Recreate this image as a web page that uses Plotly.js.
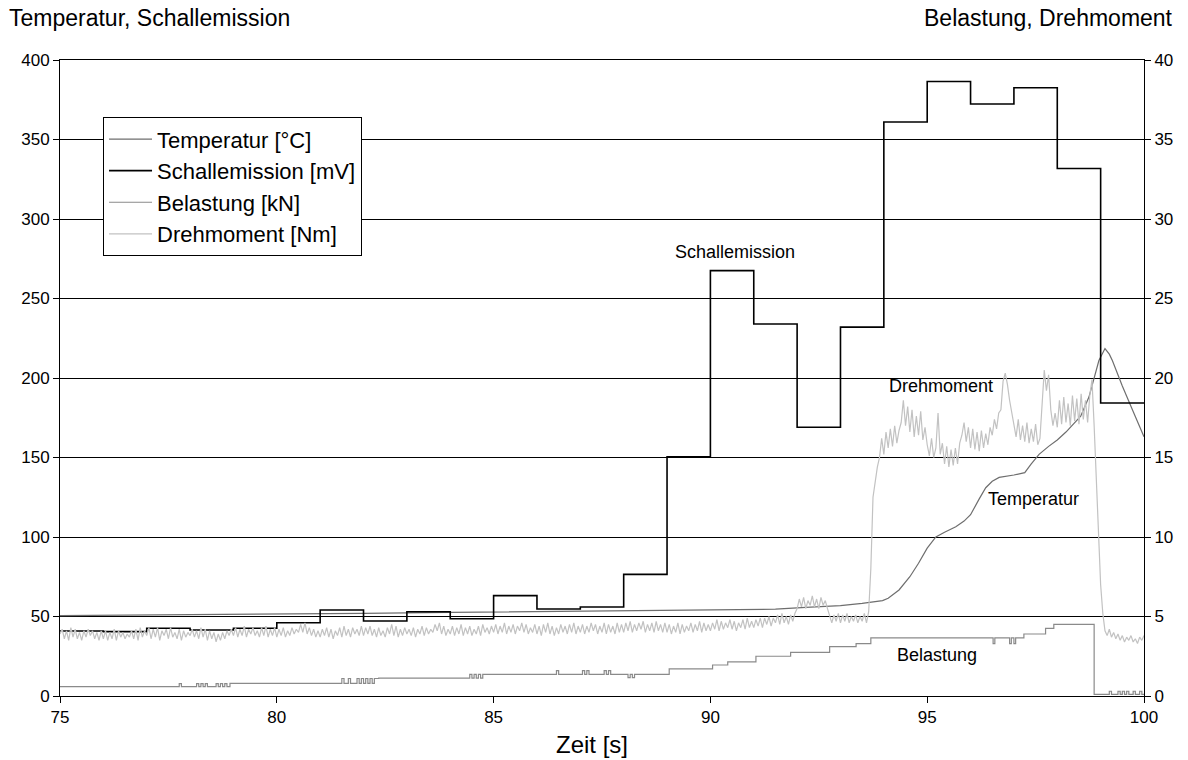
<!DOCTYPE html>
<html>
<head>
<meta charset="utf-8">
<script src="https://cdn.plot.ly/plotly-3.0.1.min.js"></script>
<style>html,body{margin:0;padding:0;background:#fff;}#chart{width:1188px;height:760px;}</style>
</head>
<body>
<div id="chart"></div>
<script>
// Schallemission [mV] – step values, one per second (left axis)
const schallT = [75,76,77,78,79,80,81,82,83,84,85,86,87,88,89,90,91,92,93,94,95,96,97,98,99,100];
const schallV = [40.9,40.5,42.6,41.5,42.6,46.1,54.1,47.2,53.0,48.6,63.1,54.7,56.0,76.5,150.5,267.5,234,169,232,361,386.5,372.3,382.5,331.8,184.3,184.3];

// Temperatur [°C] (left axis)
const tempT = [75,78,80,82,84,86,88,90,91.5,92.2,93,93.5,93.97,94.1,94.35,94.6,94.8,95.0,95.2,95.4,95.66,95.85,96.0,96.2,96.35,96.5,96.66,97.0,97.25,97.4,97.58,97.8,98.0,98.2,98.35,98.54,98.73,98.85,98.96,99.1,99.2,99.27,99.5,99.75,100];
const tempV = [50.6,51.0,51.5,52.0,52.6,53.1,53.6,54.1,54.6,55.8,56.8,58.2,60,61.5,66.7,75,83.5,93,100,103,106.5,110,114,124,131,135,137.5,139,140.5,146,152,157,161,166,170.4,176,188,200,211,218.5,215,211,195,179,163];

// Belastung [kN] (right axis) – step signal with glitches
const belT = [75,77.75,77.8,78.15,78.2,78.25,78.3,78.35,78.4,78.6,78.65,78.7,78.75,78.8,78.85,78.92,
  81.5,81.55,81.65,81.7,81.85,81.9,81.95,82.0,82.05,82.1,82.15,82.2,82.25,82.35,
  84.45,84.5,84.55,84.6,84.65,84.7,84.75,86.45,86.5,87.05,87.1,87.15,87.2,87.55,87.6,87.65,87.7,
  88.1,88.15,88.2,88.25,89.05,90.05,90.4,91.05,91.85,92.75,93.36,93.7,
  96.52,96.56,96.9,96.94,97.0,97.04,97.23,97.73,97.92,98.85,
  99.2,99.25,99.4,99.45,99.5,99.55,99.6,99.65,99.75,99.8,99.9,99.95,100];
const belV = [0.59,0.78,0.59,0.78,0.59,0.78,0.59,0.78,0.59,0.78,0.59,0.78,0.59,0.78,0.59,0.80,
  1.1,0.8,1.1,0.8,1.1,0.8,1.1,0.8,1.1,0.8,1.1,0.8,1.1,1.13,
  1.36,1.13,1.36,1.13,1.36,1.13,1.36,1.6,1.36,1.6,1.36,1.6,1.36,1.6,1.36,1.6,1.36,
  1.15,1.36,1.15,1.36,1.70,1.95,2.15,2.5,2.75,3.1,3.3,3.65,
  3.3,3.65,3.3,3.65,3.3,3.65,3.9,4.25,4.5,0.1,
  0.3,0.1,0.3,0.1,0.3,0.1,0.3,0.1,0.3,0.1,0.3,0.1,0.1];

// Drehmoment [Nm] (right axis) – sampled every 0.05 s from 75 s
const drehStart = 75, drehStep = 0.05;
const drehV = [
  3.9,4.2,3.6,4.1,3.5,4.3,3.7,4.2,3.6,4.0,3.5,4.1,3.7,4.2,3.8,4.1,3.6,4.0,3.5,4.1,
  3.6,4.1,3.5,4.0,3.6,4.2,3.5,4.1,3.7,4.0,3.6,3.9,3.7,4.1,3.6,4.2,3.5,4.3,3.7,4.1,
  3.8,4.3,3.6,4.2,3.7,4.3,3.5,4.1,3.8,4.2,3.6,4.3,3.7,4.0,3.6,4.2,3.5,4.1,3.7,4.0,
  3.8,4.2,3.7,4.1,3.6,4.3,3.7,4.2,3.5,4.1,3.6,4.0,3.4,3.9,3.5,4.0,3.6,4.1,3.8,4.2,
  3.8,4.3,3.7,4.2,3.8,4.4,3.7,4.2,3.9,4.3,3.8,4.1,3.7,4.3,3.8,4.4,3.7,4.2,3.8,4.3,
  3.7,4.2,3.8,4.3,3.7,4.1,3.8,4.3,3.9,4.2,4.0,4.5,4.0,4.6,3.9,4.3,3.8,4.2,3.7,4.1,
  3.7,4.2,3.8,4.3,3.7,4.2,3.6,4.1,3.8,4.3,3.7,4.4,3.8,4.2,3.7,4.3,3.9,4.2,3.8,4.4,
  3.8,4.3,3.9,4.4,3.8,4.2,3.7,4.3,3.8,4.1,3.7,4.3,3.9,4.5,3.8,4.4,3.7,4.2,3.8,4.3,
  3.9,4.2,3.8,4.3,3.7,4.2,3.9,4.4,3.8,4.3,3.9,4.2,4.0,4.5,4.1,4.6,3.9,4.4,3.8,4.2,
  3.9,4.4,3.8,4.3,3.9,4.5,3.8,4.3,3.9,4.4,3.8,4.2,3.9,4.4,3.8,4.5,4.0,4.3,3.9,4.4,
  4.0,4.5,3.9,4.4,4.0,4.6,3.9,4.4,4.0,4.5,3.9,4.4,4.1,4.6,4.0,4.5,3.9,4.3,4.0,4.5,
  3.9,4.4,3.8,4.5,4.0,4.6,3.9,4.4,3.8,4.3,3.9,4.5,4.0,4.4,3.9,4.5,4.0,4.6,3.9,4.4,
  4.0,4.5,3.9,4.4,4.0,4.6,4.1,4.5,3.9,4.4,4.0,4.6,3.9,4.5,4.0,4.4,3.9,4.6,4.0,4.5,
  4.0,4.6,4.1,4.7,4.0,4.5,4.1,4.6,4.2,4.7,4.0,4.5,4.1,4.6,4.0,4.7,4.1,4.5,4.0,4.6,
  4.0,4.5,3.9,4.4,4.0,4.6,3.9,4.5,4.0,4.4,4.1,4.6,4.0,4.5,4.1,4.7,4.0,4.6,4.1,4.5,
  4.1,4.6,4.2,4.8,4.1,4.7,4.2,4.6,4.3,4.8,4.2,4.7,4.1,4.6,4.3,4.8,4.2,4.9,4.3,4.7,
  4.3,4.8,4.4,4.9,4.3,4.9,4.5,5.0,4.4,4.9,4.6,5.1,4.5,5.2,4.6,5.0,4.5,5.1,4.7,5.2,
  5.5,6.1,5.6,6.2,5.5,6.0,5.7,6.3,5.6,6.1,5.5,6.2,5.7,6.0,5.5,5.0,4.6,5.1,4.7,5.2,
  4.6,5.1,4.7,5.2,4.6,5.0,4.7,5.1,4.6,5.0,4.7,5.2,4.6,5.3,8.0,12.5,13.5,14.4,15.0,16.2,
  15.2,16.6,15.6,16.8,15.7,17.0,15.9,16.7,17.2,18.6,17.0,18.2,16.6,18.0,16.3,17.6,16.4,17.9,16.1,16.9,
  15.8,15.1,16.2,15.0,15.6,17.8,15.2,15.9,14.6,15.7,14.4,15.5,14.5,15.6,14.6,15.9,16.4,17.2,16.0,16.9,
  15.6,16.8,15.5,16.6,15.4,16.7,15.6,16.5,15.8,16.9,16.4,17.4,16.8,17.8,18.0,19.8,20.3,19.6,18.6,17.9,
  17.2,16.3,17.4,16.1,17.0,16.0,17.2,15.9,16.8,16.0,17.1,15.8,16.2,18.5,20.5,19.2,20.2,18.0,17.0,17.8,
  16.9,18.6,17.1,18.8,17.2,18.4,17.0,18.9,17.3,18.7,17.1,19.0,17.4,18.6,17.2,18.9,19.9,17.0,13.5,10.0,
  7.0,5.2,4.1,3.8,4.2,3.7,4.0,3.6,3.9,3.5,3.8,3.4,3.7,3.5,3.8,3.4,3.6,3.3,3.7,3.5,
  3.8
];
const drehT = drehV.map((_, i) => +(drehStart + i * drehStep).toFixed(2));

const seriesNames = ['Temperatur [°C]', 'Schallemission [mV]', 'Belastung [kN]', 'Drehmoment [Nm]'];
const xTicks = [75, 80, 85, 90, 95, 100];

const FONT = 'Arial, "Liberation Sans", sans-serif';

const traces = [
  {x: tempT, y: tempV, name: seriesNames[0], type: 'scatter', mode: 'lines',
   line: {color: '#6e6e6e', width: 1.2}, yaxis: 'y'},
  {x: schallT, y: schallV, name: seriesNames[1], type: 'scatter', mode: 'lines',
   line: {color: '#000000', width: 1.6, shape: 'hv'}, yaxis: 'y'},
  {x: belT, y: belV, name: seriesNames[2], type: 'scatter', mode: 'lines',
   line: {color: '#8a8a8a', width: 1.2, shape: 'hv'}, yaxis: 'y2'},
  {x: drehT, y: drehV, name: seriesNames[3], type: 'scatter', mode: 'lines',
   line: {color: '#c2c2c2', width: 1.2}, yaxis: 'y2'}
];

const layout = {
  width: 1188, height: 760,
  margin: {l: 60, r: 44, t: 60, b: 64},
  paper_bgcolor: '#fff', plot_bgcolor: '#fff',
  font: {family: FONT, size: 17, color: '#000'},
  showlegend: true,
  legend: {x: 0.0397, y: 0.91, xanchor: 'left', yanchor: 'top',
    bgcolor: '#fff', bordercolor: '#000', borderwidth: 1, itemwidth: 43,
    font: {family: FONT, size: 22, color: '#000'}, traceorder: 'normal'},
  xaxis: {range: [75, 100], tickvals: xTicks, ticks: 'outside', ticklen: 6, tickcolor: '#000',
    showline: true, linecolor: '#000', linewidth: 1, mirror: true, showgrid: false, zeroline: false,
    tickfont: {family: FONT, size: 17}},
  yaxis: {range: [0, 400], dtick: 50, ticks: 'outside', ticklen: 6, tickcolor: '#000',
    showline: true, linecolor: '#000', linewidth: 1, showgrid: true, gridcolor: '#000', gridwidth: 1,
    zeroline: false, tickfont: {family: FONT, size: 17}},
  yaxis2: {range: [0, 40], dtick: 5, overlaying: 'y', side: 'right', ticks: 'outside', ticklen: 6,
    tickcolor: '#000', showline: true, linecolor: '#000', linewidth: 1, showgrid: false, zeroline: false,
    tickfont: {family: FONT, size: 17}},
  annotations: [
    {text: 'Temperatur, Schallemission', xref: 'paper', yref: 'paper', x: -0.0489, y: 1.066,
     xanchor: 'left', yanchor: 'middle', showarrow: false, font: {family: FONT, size: 23}},
    {text: 'Belastung, Drehmoment', xref: 'paper', yref: 'paper', x: 1.0286, y: 1.066,
     xanchor: 'right', yanchor: 'middle', showarrow: false, font: {family: FONT, size: 23}},
    {text: 'Zeit [s]', xref: 'paper', yref: 'paper', x: 0.4908, y: -0.077,
     xanchor: 'center', yanchor: 'middle', showarrow: false, font: {family: FONT, size: 24}},
    {text: 'Schallemission', xref: 'x', yref: 'y', x: 90.57, y: 279,
     xanchor: 'center', yanchor: 'middle', showarrow: false, font: {family: FONT, size: 18}},
    {text: 'Drehmoment', xref: 'x', yref: 'y', x: 95.32, y: 195,
     xanchor: 'center', yanchor: 'middle', showarrow: false, font: {family: FONT, size: 18}},
    {text: 'Temperatur', xref: 'x', yref: 'y', x: 97.44, y: 124,
     xanchor: 'center', yanchor: 'middle', showarrow: false, font: {family: FONT, size: 18}},
    {text: 'Belastung', xref: 'x', yref: 'y', x: 95.23, y: 25.8,
     xanchor: 'center', yanchor: 'middle', showarrow: false, font: {family: FONT, size: 18}}
  ]
};

Plotly.newPlot('chart', traces, layout, {displayModeBar: false, staticPlot: true});
</script>
</body>
</html>
